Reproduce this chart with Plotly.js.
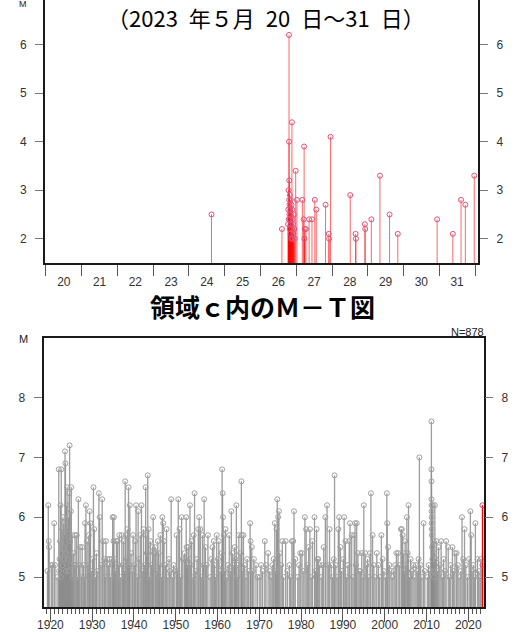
<!DOCTYPE html>
<html>
<head>
<meta charset="utf-8">
<script src="https://cdn.plot.ly/plotly-3.0.1.min.js"></script>
<style>html,body{margin:0;padding:0;background:#fff;}#chart{width:515px;height:632px;}</style>
</head>
<body>
<div id="chart"></div>
<script>
// ---- Top panel: 2023-05-20 .. 2023-05-31 (region c) ----
const topTime = [
  '2023-05-24 15:07','2023-05-26 14:24',
  '2023-05-26 18:30','2023-05-26 18:40','2023-05-26 18:50','2023-05-26 19:00','2023-05-26 19:08',
  '2023-05-26 19:10','2023-05-26 19:15','2023-05-26 19:20','2023-05-26 19:25','2023-05-26 19:30',
  '2023-05-26 19:40','2023-05-26 19:45','2023-05-26 19:50','2023-05-26 20:00','2023-05-26 20:10',
  '2023-05-26 20:15','2023-05-26 20:20','2023-05-26 20:30','2023-05-26 20:40','2023-05-26 20:50',
  '2023-05-26 21:07','2023-05-26 21:10','2023-05-26 21:20','2023-05-26 21:30','2023-05-26 21:40',
  '2023-05-26 21:50','2023-05-26 22:00','2023-05-26 22:20','2023-05-26 22:40','2023-05-26 23:00',
  '2023-05-26 23:38','2023-05-27 00:29',
  '2023-05-27 04:05','2023-05-27 05:00','2023-05-27 05:17','2023-05-27 05:30','2023-05-27 05:45',
  '2023-05-27 06:29','2023-05-27 08:38','2023-05-27 10:34','2023-05-27 12:29','2023-05-27 13:26',
  '2023-05-27 19:41','2023-05-27 21:50','2023-05-27 22:05','2023-05-27 23:02',
  '2023-05-28 12:14','2023-05-28 15:50','2023-05-28 16:05','2023-05-28 22:05','2023-05-28 22:19',
  '2023-05-29 02:24','2023-05-29 08:10','2023-05-29 14:38','2023-05-29 20:10',
  '2023-05-30 22:34','2023-05-31 09:07','2023-05-31 14:38','2023-05-31 17:31','2023-05-31 23:31'
];
const topMag = [
  2.5, 2.2,
  2.3, 2.6, 3.0, 2.4, 6.2,
  4.0, 2.8, 3.2, 2.5, 2.7,
  2.2, 2.9, 2.4, 2.6, 2.1,
  2.8, 2.3, 2.5, 2.0, 2.7,
  4.4, 2.2, 2.6, 2.4, 2.0,
  2.3, 2.1, 2.5, 2.2, 2.0,
  3.4, 2.8,
  2.8, 2.4, 3.9, 2.0, 2.2,
  2.2, 2.4, 2.4, 2.8, 2.6,
  2.7, 2.1, 2.0, 4.1,
  2.9, 2.1, 2.0, 2.3, 2.2,
  2.4, 3.3, 2.5, 2.1,
  2.4, 2.1, 2.8, 2.7, 3.3
];

// ---- Bottom panel: 1919 .. 2023, M>=5.0 (N=878) ----
const histYear = [
  1919.3,1919.5,1919.6,1919.7, 1920.2,1920.5,1920.9, 1921.1,1921.6,
  1922.0,1922.1,1922.2,1922.3,1922.4,1922.5,1922.6,1922.7,1922.8,1922.9,
  1923.0,1923.1,1923.2,1923.3,1923.4,1923.5,1923.6,1923.7,1923.8,1923.9,
  1924.0,1924.1,1924.2,1924.3,1924.4,1924.5,1924.6,1924.7,1924.8,1924.9,
  1925.0,1925.2,1925.3,1925.5,1925.7,1925.9, 1926.1,1926.3,1926.5,1926.7,1926.9,
  1927.1,1927.4,1927.6,1927.9, 1928.1,1928.3,1928.5,1928.8, 1929.0,1929.2,1929.4,1929.6,1929.9,
  1930.1,1930.3,1930.5,1930.8, 1931.0,1931.2,1931.6,1931.8, 1932.1,1932.4,1932.6,1932.9,
  1933.1,1933.3,1933.6,1933.9, 1934.2,1934.4,1934.7,1934.9, 1935.1,1935.2,1935.4,1935.6,1935.8,
  1936.1,1936.3,1936.5,1936.8, 1937.1,1937.3,1937.5,1937.7,1937.9, 1938.1,1938.3,1938.5,1938.7,1938.9,
  1939.0,1939.3,1939.6,1939.8,
  1940.1,1940.3,1940.5,1940.8, 1941.0,1941.2,1941.5,1941.8, 1942.1,1942.3,1942.5,1942.8,1942.9,
  1943.1,1943.3,1943.5,1943.7,1943.9, 1944.2,1944.4,1944.6,1944.8, 1945.1,1945.3,1945.5,1945.7,1945.9,
  1946.1,1946.3,1946.6,1946.8, 1947.0,1947.2,1947.5,1947.8, 1948.1,1948.4,1948.6,1948.9, 1949.2,1949.5,1949.8,
  1950.2,1950.4,1950.6,1950.9, 1951.1,1951.4,1951.7, 1952.1,1952.3,1952.5,1952.6,1952.8,
  1953.0,1953.2,1953.4,1953.6,1953.8, 1954.1,1954.3,1954.5,1954.8, 1955.1,1955.4,1955.6,1955.9,
  1956.1,1956.4,1956.6,1956.8, 1957.1,1957.4,1957.7, 1958.2,1958.5,1958.8, 1959.1,1959.3,1959.5,1959.8,
  1960.1,1960.3,1960.6,1960.9, 1961.0,1961.1,1961.2,1961.3,1961.5,1961.7,1961.9, 1962.2,1962.5,1962.8,
  1963.1,1963.3,1963.6,1963.9, 1964.1,1964.3,1964.5,1964.7,1964.9, 1965.1,1965.4,1965.7,1965.8,1965.9,
  1966.2,1966.5,1966.8, 1967.1,1967.4,1967.8,1967.9, 1968.2,1968.4,1968.7, 1969.2,1969.6,
  1970.1,1970.4,1970.8, 1971.3,1971.6, 1972.1,1972.5,1972.8, 1973.1,1973.4,1973.7,1973.9,
  1974.1,1974.3,1974.5,1974.7,1974.9, 1975.2,1975.5,1975.8, 1976.3,1976.7, 1977.2,1977.5,1977.8,
  1978.1,1978.3,1978.6, 1979.2,1979.5,1979.8,
  1980.2,1980.5,1980.9, 1981.2,1981.5,1981.8, 1982.1,1982.4,1982.7, 1983.2,1983.4,1983.7,1983.9,
  1984.1,1984.4,1984.8, 1985.1,1985.4,1985.8, 1986.2,1986.5,1986.8, 1987.2,1987.5,1987.8,
  1988.0,1988.3,1988.6,1988.9, 1989.1,1989.4,1989.7,
  1990.1,1990.3,1990.6,1990.9, 1991.2,1991.5,1991.7, 1992.1,1992.4,1992.7,1992.9, 1993.1,1993.3,1993.6,1993.9,
  1994.2,1994.5,1994.8, 1995.0,1995.3,1995.6,1995.9, 1996.2,1996.5,1996.7, 1997.1,1997.4,1997.7,
  1998.1,1998.5,1998.8, 1999.2,1999.5,1999.8,
  2000.2,2000.5,2000.6,2000.8, 2001.1,2001.5,2001.8, 2002.2,2002.5,2002.8, 2003.2,2003.5,2003.9,
  2004.1,2004.3,2004.5,2004.7,2004.9, 2005.1,2005.3,2005.5,2005.7,2005.9, 2006.2,2006.5,2006.8,
  2007.2,2007.5,2007.8, 2008.1,2008.3,2008.6,2008.9, 2009.3,2009.6,
  2010.2,2010.5,2010.8,
  2011.17,2011.18,2011.19,2011.20,2011.21,2011.22,2011.23,2011.25,2011.27,2011.30,2011.35,2011.40,
  2011.50,2011.60,2011.70,2011.80,2011.90,
  2012.0,2012.2,2012.4,2012.6,2012.9, 2013.2,2013.5,2013.8, 2014.1,2014.4,2014.7, 2015.2,2015.5,2015.8,
  2016.2,2016.5,2016.8, 2017.2,2017.5,2017.8, 2018.2,2018.5,2018.8, 2019.1,2019.4,2019.8,
  2020.2,2020.5,2020.7,2020.9, 2021.2,2021.5,2021.7, 2022.2,2022.5,2022.8, 2023.0
];
const histMag = [
  5.1,6.2,5.6,5.5, 5.2,5.2,5.9, 5.2,5.0,
  6.8,5.1,5.3,5.6,6.2,5.0,6.8,5.4,5.8,5.2,
  6.0,5.5,5.9,5.3,5.7,7.1,6.9,5.1,5.4,6.2,
  6.5,5.3,5.8,6.0,5.1,6.4,7.2,5.6,5.2,6.1,
  6.5,5.7,5.0,5.4,5.2,5.7, 5.2,5.7,5.0,6.3,5.2,
  5.5,5.0,5.5,5.2, 5.0,5.9,6.2,5.6, 5.2,5.7,6.1,5.9,5.1,
  5.3,6.5,5.8,5.0, 5.4,5.1,6.4,6.0, 5.2,6.3,5.6,5.3,
  5.0,5.6,5.3,5.2, 5.3,5.0,5.3,6.0, 5.6,6.0,5.3,5.1,5.6,
  5.6,5.2,5.7,5.0, 5.7,5.2,5.6,5.1,6.6, 5.7,5.3,5.8,6.5,5.2,
  6.2,5.4,5.1,5.7,
  5.2,5.6,6.2,5.0, 6.1,5.3,5.7,6.2, 5.1,5.8,5.2,6.5,5.7,
  5.4,6.7,5.8,5.0,5.6, 5.2,5.5,6.0,5.4, 5.5,5.4,5.1,5.6,5.4,
  5.2,5.7,5.0,6.0, 5.9,5.6,5.2,5.8, 5.0,5.3,5.1,6.3, 5.0,5.2,5.1,
  5.7,5.1,6.3,5.8, 5.0,6.0,5.3, 5.4,5.3,6.0,5.5,5.2,
  5.5,5.3,6.2,5.2,5.6, 5.0,5.7,6.4,5.1, 5.3,5.8,6.0,5.8,
  5.0,5.7,5.2,6.3, 5.5,5.2,5.7, 5.0,5.3,5.5, 5.6,5.2,5.0,5.7,
  5.3,5.6,5.1,5.2, 5.4,6.8,6.4,6.0,5.7,5.1,5.8, 5.0,5.2,5.7,
  5.1,6.1,5.4,5.2, 5.5,5.3,6.2,5.0,5.2, 5.7,5.4,6.6,5.7,5.1,
  5.7,5.2,5.0, 5.3,5.1,5.9,5.6, 5.5,5.1,5.3, 5.2,5.0,
  5.0,5.2,5.1, 5.6,5.2, 5.4,5.1,5.0, 5.2,5.3,5.9,5.1,
  5.8,6.3,6.0,6.1,5.4, 5.2,5.6,5.0, 5.6,5.1, 5.2,5.0,5.6,
  5.6,6.1,5.3, 5.0,5.2,5.4,
  5.4,5.1,6.0, 5.8,5.2,5.5, 5.8,5.0,5.6, 6.0,5.1,5.8,5.3,
  5.3,5.2,5.0, 5.2,5.5,6.0, 6.2,5.2,5.8, 5.2,5.0,5.3,
  6.7,5.2,5.0,5.8, 6.0,5.5,5.1,
  5.3,6.0,5.6,5.0, 5.2,5.6,5.9, 5.7,5.0,5.7,5.9, 5.2,5.9,5.4,5.1,
  5.1,5.4,5.0, 6.2,5.4,5.2,5.3, 5.0,5.4,6.4, 5.7,5.2,5.0,
  5.4,5.2,5.0, 5.7,5.3,5.1,
  5.0,6.4,5.9,5.5, 5.2,5.1,5.0, 5.1,5.2,5.4, 5.4,5.2,5.8,
  5.8,5.7,5.4,5.1,5.6, 5.2,6.0,5.4,6.2,5.0, 5.3,5.1,5.2,
  5.0,5.2,5.1, 5.3,7.0,5.2,5.0, 5.9,5.1,
  5.0,5.2,5.1,
  7.6,6.8,6.6,6.3,6.2,6.1,6.0,5.9,5.8,5.7,5.5,5.3,
  6.2,5.1,5.6,5.0,5.4,
  6.2,5.3,5.6,5.1,5.5, 5.2,5.6,5.0, 5.3,5.1,5.6, 5.5,5.0,5.2,
  5.5,5.1,5.4, 5.4,5.2,5.0, 5.1,6.0,5.3, 5.8,5.2,5.0,
  5.3,6.1,5.7,5.1, 5.2,5.0,5.9, 5.3,5.1,5.0, 5.3
];
const recentYear = [2023.39, 2023.39];
const recentMag = [6.2, 5.2];
const decadeTicks = [1920,1930,1940,1950,1960,1970,1980,1990,2000,2010,2020];

// ---- layout constants ----
const W = 515, H = 632;
const TOP_BASE = 1.5, BOT_BASE = 4.5;
const tickFont = {family: 'Liberation Sans, Arial, sans-serif', size: 12, color: '#333'};

function stemTrace(x, y, base, xa, ya, lineCol, markCol, thick) {
  return {
    type: 'scatter', mode: 'markers', x: x, y: y, xaxis: xa, yaxis: ya,
    marker: {symbol: 'circle-open', size: 5, color: markCol, line: {width: 1}},
    error_y: {type: 'data', symmetric: false, array: y.map(() => 0),
              arrayminus: y.map(v => v - base), width: 0, thickness: thick, color: lineCol},
    hoverinfo: 'skip', showlegend: false
  };
}
// invisible copy of a series, so that the right-hand (mirror) axes get drawn
function ghostTrace(x, y, xa, ya) {
  return {type: 'scatter', mode: 'markers', x: x, y: y, xaxis: xa, yaxis: ya,
          marker: {opacity: 0, size: 1}, hoverinfo: 'skip', showlegend: false};
}

const data = [
  stemTrace(histYear, histMag, BOT_BASE, 'x2', 'y2', 'rgba(140,140,140,0.85)', '#a0a0a0', 1.3),
  stemTrace(recentYear, recentMag, BOT_BASE, 'x2', 'y2', '#ff0000', '#e0506a', 1.3),
  stemTrace(topTime, topMag, TOP_BASE, 'x', 'y', 'rgba(255,0,0,0.6)', '#e0507a', 1),
  ghostTrace(topTime, topMag, 'x', 'y3'),
  ghostTrace(histYear, histMag, 'x2', 'y4')
];

const topXd = [45/W, 478/W], topYd = [1 - 263/H, 1];
const botXd = [43.7/W, 484/W], botYd = [1 - 607/H, 1 - 337.7/H];
const lineCol = '#1a1a1a';

const yTick = {ticks: 'outside', ticklen: 8, tickwidth: 1, tickcolor: '#777',
               showgrid: false, zeroline: false, tickfont: tickFont, ticklabelstandoff: 6};

const layout = {
  width: W, height: H, margin: {l: 0, r: 0, t: 0, b: 0},
  paper_bgcolor: '#fff', plot_bgcolor: '#fff', showlegend: false,
  font: tickFont,
  xaxis: {
    domain: topXd, anchor: 'y', type: 'date',
    range: ['2023-05-19 23:20', '2023-06-01 02:01'],
    tick0: '2023-05-20', dtick: 86400000, tickformat: '%-d', ticklabelmode: 'period',
    ticks: 'outside', ticklen: 11, tickwidth: 1, tickcolor: '#555',
    showline: true, linewidth: 2, linecolor: lineCol, mirror: false,
    showgrid: false, zeroline: false, tickfont: tickFont, ticklabelstandoff: -4
  },
  yaxis: Object.assign({domain: topYd, anchor: 'x', range: [TOP_BASE, 6.92], tickvals: [2,3,4,5,6],
    showline: true, linewidth: 2, linecolor: lineCol}, yTick),
  yaxis3: Object.assign({overlaying: 'y', anchor: 'x', side: 'right', range: [TOP_BASE, 6.92],
    tickvals: [2,3,4,5,6], showline: true, linewidth: 2, linecolor: lineCol}, yTick),
  xaxis2: {
    domain: botXd, anchor: 'y2', range: [1918.4, 2023.76],
    tickvals: decadeTicks, ticks: 'outside', ticklen: 13, tickwidth: 1, tickcolor: '#555',
    minor: {dtick: 1, tick0: 1919, ticks: 'outside', ticklen: 5, tickwidth: 1, tickcolor: '#555'},
    showline: true, linewidth: 2, linecolor: lineCol, mirror: true,
    showgrid: false, zeroline: false, tickfont: tickFont, ticklabelstandoff: -7
  },
  yaxis2: Object.assign({domain: botYd, anchor: 'x2', range: [BOT_BASE, 9.0], tickvals: [5,6,7,8],
    showline: true, linewidth: 2, linecolor: lineCol, mirror: true}, yTick),
  yaxis4: Object.assign({overlaying: 'y2', anchor: 'x2', side: 'right', range: [BOT_BASE, 9.0],
    tickvals: [5,6,7,8], showline: false}, yTick),
  annotations: [
    {text: '（2023\u2002年５月\u200220\u2002日～31\u2002日）', xref: 'paper', yref: 'paper', x: 266/W, y: 1 - 17/H,
     xanchor: 'center', yanchor: 'middle', showarrow: false,
     font: {family: 'Noto Sans CJK JP, sans-serif', size: 22, color: '#000'}},
    {text: '<b>領域ｃ内のＭ－Ｔ図</b>', xref: 'paper', yref: 'paper', x: 262/W, y: 1 - 306/H,
     xanchor: 'center', yanchor: 'middle', showarrow: false,
     font: {family: 'Noto Sans CJK JP, sans-serif', size: 25, color: '#000'}},
    {text: 'N=878', xref: 'paper', yref: 'paper', x: 486/W, y: 1 - 332/H,
     xanchor: 'right', yanchor: 'middle', showarrow: false,
     font: {family: 'Liberation Sans, Arial, sans-serif', size: 11, color: '#222'}},
    {text: 'M', xref: 'paper', yref: 'paper', x: 23/W, y: 1 - 339/H,
     xanchor: 'center', yanchor: 'middle', showarrow: false,
     font: {family: 'Liberation Sans, Arial, sans-serif', size: 11, color: '#222'}},
    {text: 'M', xref: 'paper', yref: 'paper', x: 23/W, y: 1 - 4/H,
     xanchor: 'center', yanchor: 'middle', showarrow: false,
     font: {family: 'Liberation Sans, Arial, sans-serif', size: 9, color: '#222'}}
  ]
};

Plotly.newPlot('chart', data, layout, {displayModeBar: false, staticPlot: true});
</script>
</body>
</html>
